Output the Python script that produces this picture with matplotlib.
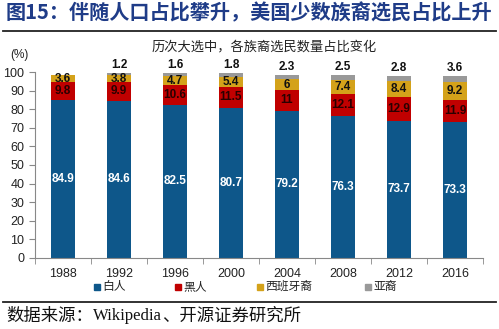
import numpy as np
import matplotlib
matplotlib.use("Agg")
import matplotlib.pyplot as plt
from matplotlib.lines import Line2D
from matplotlib.patches import Rectangle

plt.rcParams['font.family'] = ['Liberation Sans', 'Noto Sans CJK SC', 'DejaVu Sans']

# data
years = ['1988', '1992', '1996', '2000', '2004', '2008', '2012', '2016']
white = [84.9, 84.6, 82.5, 80.7, 79.2, 76.3, 73.7, 73.3]
black = [9.8, 9.9, 10.6, 11.5, 11, 12.1, 12.9, 11.9]
hispanic = [3.6, 3.8, 4.7, 5.4, 6, 7.4, 8.4, 9.2]
asian = [0, 1.2, 1.6, 1.8, 2.3, 2.5, 2.8, 3.6]
series_names = ['白人', '黑人', '西班牙裔', '亚裔']
colors = ['#0E578A', '#C00000', '#D4A21A', '#999999']

fig = plt.figure(figsize=(4.99, 3.29), dpi=100)
W, H = 499, 329

# header / footer
fig.text(0.012, 0.962, '图15：伴随人口占比攀升，美国少数族裔选民占比上升',
         fontsize=14.5, fontweight='bold', color='#1F3C88', va='center', ha='left',
         family=['Noto Sans CJK SC', 'DejaVu Sans'])
fig.add_artist(Line2D([0.006, 0.994], [0.907, 0.907], color='#222222', lw=1.3))
fig.add_artist(Line2D([0.006, 0.994], [0.083, 0.083], color='#222222', lw=1.3))

renderer = fig.canvas.get_renderer()
xpos = 0.012
for txt, fam, fs in [('数据来源：', ['Noto Sans CJK SC'], 12.5),
                     ('Wikipedia', ['Liberation Serif'], 12),
                     ('、开源证券研究所', ['Noto Sans CJK SC'], 12.5)]:
    t = fig.text(xpos, 0.040, txt, fontsize=fs, color='#111111', va='center', ha='left',
                 family=fam)
    bb = t.get_window_extent(renderer)
    xpos += bb.width / W

ax = fig.add_axes([0.070, 0.216, 0.898, 0.565])
x = np.arange(len(years))
w = 0.43
bottoms = np.zeros(len(years))
for vals, c, name in zip([white, black, hispanic, asian], colors, series_names):
    ax.bar(x, vals, w, bottom=bottoms, color=c, label=name)
    bottoms += np.array(vals)

# labels
for i in range(len(years)):
    ax.text(x[i], white[i] / 2, f'{white[i]:g}', ha='center', va='center',
            color='white', fontsize=8.5, fontweight='bold')
    ax.text(x[i], white[i] + black[i] / 2, f'{black[i]:g}', ha='center', va='center',
            color='#2a0000', fontsize=8.5, fontweight='bold')
    ax.text(x[i], white[i] + black[i] + hispanic[i] / 2, f'{hispanic[i]:g}', ha='center',
            va='center', color='#111111', fontsize=8.5, fontweight='bold')
    if asian[i] > 0:
        ax.text(x[i], bottoms[i] + 1.2, f'{asian[i]:g}', ha='center', va='bottom',
                color='#111111', fontsize=8.5, fontweight='bold')

ax.set_xlim(-0.5, len(years) - 0.5)
ax.set_ylim(0, 100)
ax.set_yticks(range(0, 101, 10))
ax.set_xticks(x)
ax.set_xticklabels(years)
ax.set_xticks(np.arange(-0.5, len(years), 1), minor=True)
ax.tick_params(axis='x', which='major', length=0, labelsize=9, pad=7, colors='#222222')
ax.tick_params(axis='x', which='minor', length=4, direction='out', color='#888888')
ax.tick_params(axis='y', length=4, labelsize=9, direction='out', colors='#222222')
ax.tick_params(axis='y', color='#888888')
for s in ['top', 'right']:
    ax.spines[s].set_visible(False)
for s in ['left', 'bottom']:
    ax.spines[s].set_color('#888888')

ax.text(-0.035, 1.09, '(%)', transform=ax.transAxes, fontsize=8.5, ha='center',
        va='center', color='#222222')
fig.text(0.53, 0.857, '历次大选中，各族裔选民数量占比变化', fontsize=9.5,
         ha='center', va='center', color='#222222')

# legend, placed entry by entry
leg_x = [97, 178, 260, 368]
leg_y = 1 - 287 / H
sq = 6
for lx, c, name in zip(leg_x, colors, series_names):
    fig.add_artist(Rectangle(((lx - sq / 2) / W, leg_y - sq / 2 / H), sq / W, sq / H,
                             color=c, transform=fig.transFigure))
    fig.text((lx + 5) / W, leg_y, name, fontsize=8.5, ha='left', va='center', color='#222222')

fig.savefig('out.png', dpi=100)
